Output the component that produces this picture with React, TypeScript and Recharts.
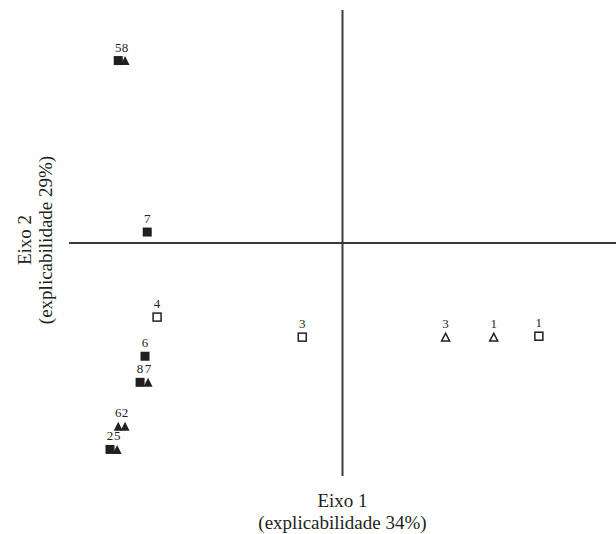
import { ScatterChart, Scatter, XAxis, YAxis, ReferenceLine } from 'recharts'

// coordinates on the two PCA axes, one digit label per point
const filledSquares = [
  { x: -0.82, y: 0.783, label: '5' },
  { x: -0.714, y: 0.047, label: '7' },
  { x: -0.722, y: -0.486, label: '6' },
  { x: -0.74, y: -0.598, label: '8' },
  { x: -0.85, y: -0.886, label: '2' },
]

const filledTriangles = [
  { x: -0.795, y: 0.783, label: '8' },
  { x: -0.711, y: -0.598, label: '7' },
  { x: -0.82, y: -0.787, label: '6' },
  { x: -0.795, y: -0.787, label: '2' },
  { x: -0.824, y: -0.886, label: '5' },
]

const openSquares = [
  { x: -0.678, y: -0.318, label: '4' },
  { x: -0.147, y: -0.404, label: '3' },
  { x: 0.718, y: -0.4, label: '1' },
]

const openTriangles = [
  { x: 0.377, y: -0.404, label: '3' },
  { x: 0.553, y: -0.404, label: '1' },
]

const INK = '#231f20'
const LINE = '#3a3a3a'
const FONT = '"Liberation Serif", "Times New Roman", serif'

const tag = (cx: number, cy: number, text: string) => (
  <text x={cx} y={cy - 9} textAnchor="middle" fontSize={13} fontFamily={FONT} fill={INK}>
    {text}
  </text>
)

const square = (filled: boolean) => (props: any) => {
  const { cx, cy, payload } = props
  const s = filled ? 9 : 8
  return (
    <g>
      <rect
        x={cx - s / 2}
        y={cy - s / 2}
        width={s}
        height={s}
        fill={filled ? INK : '#fff'}
        stroke={INK}
        strokeWidth={filled ? 0 : 1.5}
      />
      {tag(cx, cy, payload.label)}
    </g>
  )
}

const triangle = (filled: boolean) => (props: any) => {
  const { cx, cy, payload } = props
  const w = filled ? 9 : 8
  const h = filled ? 9 : 7.5
  const pts = `${cx},${cy - h / 2} ${cx + w / 2},${cy + h / 2} ${cx - w / 2},${cy + h / 2}`
  return (
    <g>
      <polygon
        points={pts}
        fill={filled ? INK : '#fff'}
        stroke={INK}
        strokeWidth={filled ? 0 : 1.5}
        strokeLinejoin="miter"
      />
      {tag(cx, cy, payload.label)}
    </g>
  )
}

const xTitle = (props: any) => {
  const { x, y, width } = props.viewBox
  const cx = x + width / 2
  return (
    <g fontFamily={FONT} fontSize={19} fill={INK}>
      <text x={cx} y={y + 31} textAnchor="middle">Eixo 1</text>
      <text x={cx} y={y + 53} textAnchor="middle">(explicabilidade 34%)</text>
    </g>
  )
}

const yTitle = (props: any) => {
  const { y, height } = props.viewBox
  const cy = y + height / 2 - 3
  return (
    <g fontFamily={FONT} fontSize={19} fill={INK}>
      <text x={31} y={cy} textAnchor="middle" transform={`rotate(-90, 31, ${cy})`}>Eixo 2</text>
      <text x={52} y={cy} textAnchor="middle" transform={`rotate(-90, 52, ${cy})`}>(explicabilidade 29%)</text>
    </g>
  )
}

export default function App() {
  return (
    <div style={{ position: 'fixed', left: 0, top: 0, background: '#fff' }}>
      <ScatterChart width={616} height={534} margin={{ top: 10, right: 0, bottom: 0, left: 0 }}>
        <XAxis
          type="number"
          dataKey="x"
          domain={[-1, 1]}
          tick={false}
          axisLine={false}
          tickLine={false}
          height={58}
          label={{ content: xTitle }}
        />
        <YAxis
          type="number"
          dataKey="y"
          domain={[-1, 1]}
          tick={false}
          axisLine={false}
          tickLine={false}
          width={69}
          label={{ content: yTitle }}
        />
        <ReferenceLine x={0} stroke={LINE} strokeWidth={2} />
        <ReferenceLine y={0} stroke={LINE} strokeWidth={2} />
        <Scatter data={filledSquares} shape={square(true)} isAnimationActive={false} />
        <Scatter data={filledTriangles} shape={triangle(true)} isAnimationActive={false} />
        <Scatter data={openSquares} shape={square(false)} isAnimationActive={false} />
        <Scatter data={openTriangles} shape={triangle(false)} isAnimationActive={false} />
      </ScatterChart>
    </div>
  )
}
